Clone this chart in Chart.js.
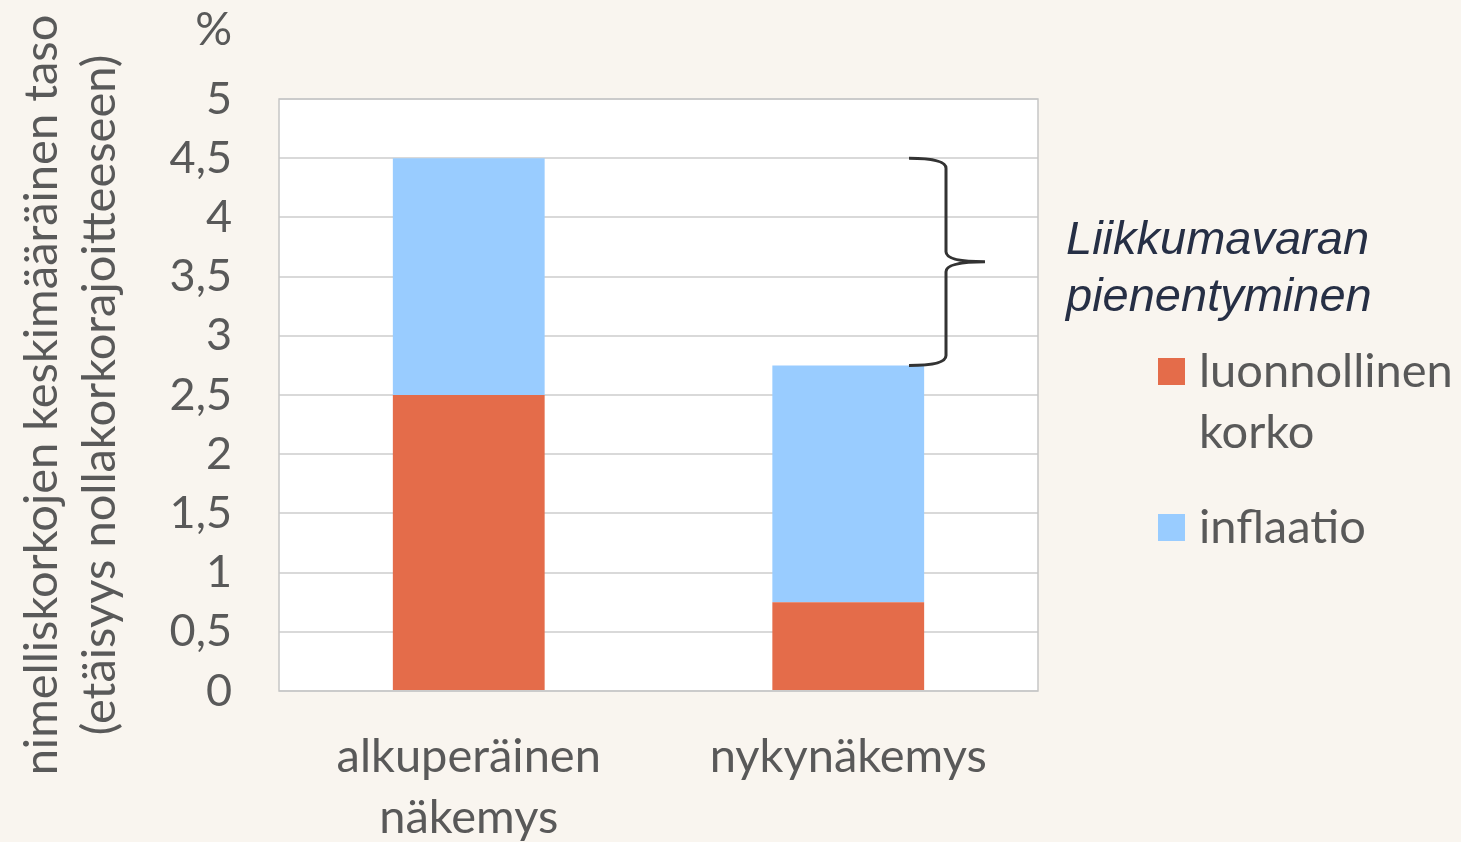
<!DOCTYPE html>
<html>
<head>
<meta charset="utf-8">
<script src="https://cdn.jsdelivr.net/npm/chart.js@4.4.1/dist/chart.umd.min.js"></script>
<style>
  html, body { margin: 0; padding: 0; background: #f9f5ef; }
  #wrap { width: 1461px; height: 842px; position: relative; }
</style>
</head>
<body>
<div id="wrap"><canvas id="chart"></canvas></div>
<script>
const CATEGORIES = [["alkuperäinen", "näkemys"], "nykynäkemys"];
const NATURAL_RATE = [2.5, 0.75];
const INFLATION = [2.0, 2.0];
const SERIES_LABELS = [["luonnollinen", "korko"], ["inflaatio"]];
const AXIS_TITLE = ["nimelliskorkojen keskimääräinen taso", "(etäisyys nollakorkorajoitteeseen)"];
const UNIT_LABEL = "%";
const NOTE_LINES = ["Liikkumavaran", "pienentyminen"];

const COLORS = {
  natural: "#e46c4a",
  inflation: "#99ccff",
  text: "#595959",
  grid: "#d9d9d9",
  border: "#c6c6c6",
  note: "#262f45",
  brace: "#333333",
};
const FONT = "Lato, 'Open Sans', sans-serif";

function fmtTick(v) {
  return String(v).replace(".", ",");
}

// white plot background + thin frame like the original spreadsheet chart
const plotFrame = {
  id: "plotFrame",
  beforeDraw(chart) {
    const { ctx, chartArea: a } = chart;
    ctx.save();
    ctx.fillStyle = "#ffffff";
    ctx.fillRect(a.left, a.top, a.right - a.left, a.bottom - a.top);
    ctx.restore();
  },
  afterDatasetsDraw(chart) {
    const { ctx, chartArea: a } = chart;
    ctx.save();
    ctx.strokeStyle = COLORS.border;
    ctx.lineWidth = 1.5;
    ctx.strokeRect(a.left, a.top, a.right - a.left, a.bottom - a.top);
    ctx.restore();
  },
};

// brace between the two stack totals, note text and legend on the right
const annotations = {
  id: "annotations",
  afterDraw(chart) {
    const { ctx, scales } = chart;
    const y = scales.y;
    const total0 = NATURAL_RATE[0] + INFLATION[0];
    const total1 = NATURAL_RATE[1] + INFLATION[1];
    const yTop = y.getPixelForValue(total0);
    const yBot = y.getPixelForValue(total1);
    const yMid = (yTop + yBot) / 2;
    const xEnd = 909, xSpine = 946, xTip = 985, r = 10;

    ctx.save();
    ctx.strokeStyle = COLORS.brace;
    ctx.lineWidth = 3;
    ctx.beginPath();
    ctx.moveTo(xEnd, yTop);
    ctx.quadraticCurveTo(xSpine, yTop, xSpine, yTop + r);
    ctx.lineTo(xSpine, yMid - r);
    ctx.quadraticCurveTo(xSpine, yMid, xTip, yMid);
    ctx.moveTo(xTip, yMid);
    ctx.quadraticCurveTo(xSpine, yMid, xSpine, yMid + r);
    ctx.lineTo(xSpine, yBot - r);
    ctx.quadraticCurveTo(xSpine, yBot, xEnd, yBot);
    ctx.stroke();

    // "%" unit above the axis
    ctx.fillStyle = COLORS.text;
    ctx.font = `46px ${FONT}`;
    ctx.textAlign = "right";
    ctx.textBaseline = "middle";
    ctx.fillText(UNIT_LABEL, 232, 30);

    // italic note
    ctx.fillStyle = COLORS.note;
    ctx.font = `italic 47px 'Liberation Sans', Arial, sans-serif`;
    ctx.textAlign = "left";
    NOTE_LINES.forEach((line, i) => ctx.fillText(line, 1066, 241 + i * 57));

    // legend
    const items = [
      { color: chart.data.datasets[0].backgroundColor, lines: SERIES_LABELS[0], y: 372 },
      { color: chart.data.datasets[1].backgroundColor, lines: SERIES_LABELS[1], y: 528 },
    ];
    ctx.font = `47px ${FONT}`;
    for (const it of items) {
      ctx.fillStyle = it.color;
      ctx.fillRect(1158, it.y - 14, 27, 27);
      ctx.fillStyle = COLORS.text;
      it.lines.forEach((line, i) => ctx.fillText(line, 1199, it.y + i * 61));
    }
    ctx.restore();
  },
};

new Chart(document.getElementById("chart"), {
  type: "bar",
  data: {
    labels: CATEGORIES,
    datasets: [
      { label: SERIES_LABELS[0].join(" "), data: NATURAL_RATE, backgroundColor: COLORS.natural },
      { label: SERIES_LABELS[1].join(" "), data: INFLATION, backgroundColor: COLORS.inflation },
    ],
  },
  options: {
    responsive: true,
    maintainAspectRatio: false,
    animation: false,
    layout: { padding: { top: 99, right: 423, left: 0, bottom: 0 } },
    datasets: { bar: { categoryPercentage: 1, barPercentage: 0.4 } },
    plugins: { legend: { display: false }, tooltip: { enabled: false } },
    scales: {
      x: {
        stacked: true,
        grid: { display: false, drawTicks: false },
        border: { display: false },
        ticks: { color: COLORS.text, font: { family: FONT, size: 47, lineHeight: 1.3 }, padding: 35, maxRotation: 0 },
        afterFit(scale) { scale.height = 151; },
      },
      y: {
        stacked: true,
        min: 0,
        max: 5,
        grid: { color: COLORS.grid, lineWidth: 2, drawTicks: false },
        border: { display: false },
        ticks: {
          stepSize: 0.5,
          color: COLORS.text,
          font: { family: FONT, size: 45 },
          padding: 47,
          callback: (v) => fmtTick(v),
        },
        title: {
          display: true,
          text: AXIS_TITLE,
          color: COLORS.text,
          font: { family: FONT, size: 47, lineHeight: 1.23 },
          padding: { top: 13, bottom: 0 },
        },
        afterFit(scale) { scale.width = 279; },
      },
    },
  },
  plugins: [plotFrame, annotations],
});
</script>
</body>
</html>
